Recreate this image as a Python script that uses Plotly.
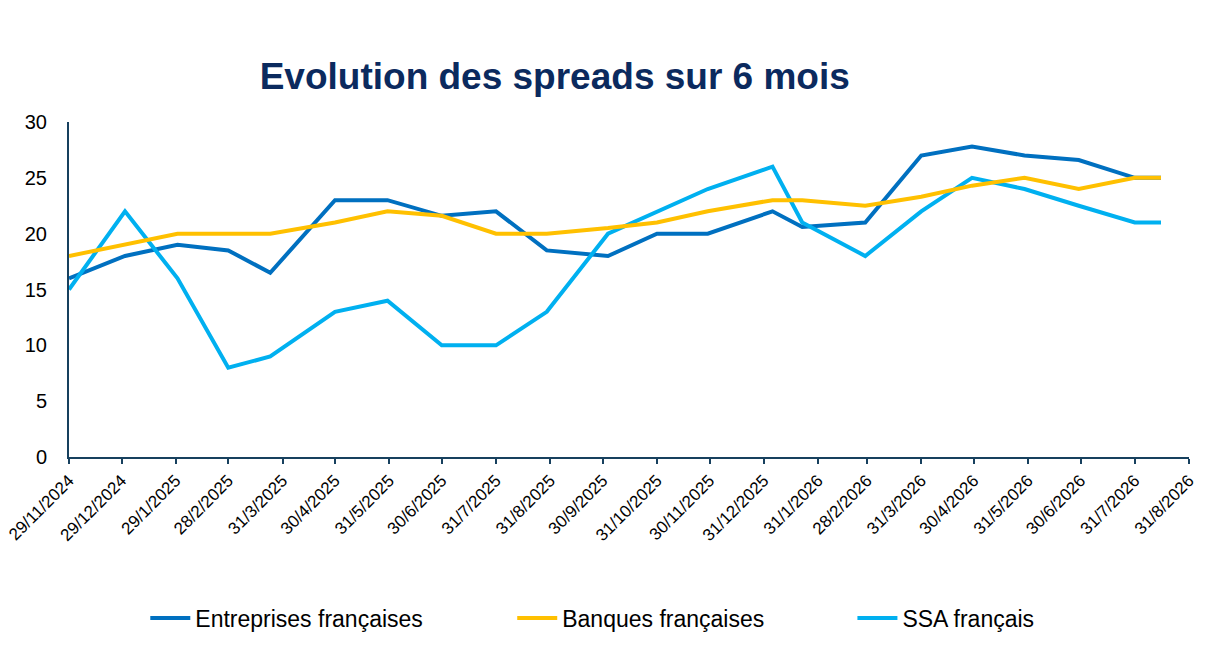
import plotly.graph_objects as go

dates = ["2024-11-29", "2024-12-31", "2025-01-30", "2025-02-28", "2025-03-24",
         "2025-04-30", "2025-05-30", "2025-06-30", "2025-07-31", "2025-08-29",
         "2025-10-03", "2025-10-31", "2025-11-29", "2026-01-05", "2026-01-22",
         "2026-02-27", "2026-03-31", "2026-04-29", "2026-05-29", "2026-06-29",
         "2026-07-31", "2026-08-15"]

entreprises = [16, 18, 19, 18.5, 16.5, 23, 23, 21.6, 22, 18.5, 18, 20, 20,
               22, 20.6, 21, 27, 27.8, 27, 26.6, 25, 25]
banques = [18, 19, 20, 20, 20, 21, 22, 21.6, 20, 20, 20.5, 21, 22, 23, 23,
           22.5, 23.3, 24.3, 25, 24, 25, 25]
ssa = [15, 22, 16, 8, 9, 13, 14, 10, 10, 13, 20, 22, 24, 26, 21, 18, 22,
       25, 24, 22.5, 21, 21]

tick_dates = ["2024-11-29", "2024-12-29", "2025-01-29", "2025-02-28", "2025-03-31",
              "2025-04-30", "2025-05-31", "2025-06-30", "2025-07-31", "2025-08-31",
              "2025-09-30", "2025-10-31", "2025-11-30", "2025-12-31", "2026-01-31",
              "2026-02-28", "2026-03-31", "2026-04-30", "2026-05-31", "2026-06-30",
              "2026-07-31", "2026-08-31"]
tick_text = ["29/11/2024", "29/12/2024", "29/1/2025", "28/2/2025", "31/3/2025",
             "30/4/2025", "31/5/2025", "30/6/2025", "31/7/2025", "31/8/2025",
             "30/9/2025", "31/10/2025", "30/11/2025", "31/12/2025", "31/1/2026",
             "28/2/2026", "31/3/2026", "30/4/2026", "31/5/2026", "30/6/2026",
             "31/7/2026", "31/8/2026"]

navy = "#0b2a5e"
axis_col = "#17405e"
font_name = "Liberation Sans, Arial"

fig = go.Figure()
fig.add_trace(go.Scatter(x=dates, y=entreprises, mode="lines", name="Entreprises françaises",
                         line=dict(color="#0070c0", width=4), legend="legend"))
fig.add_trace(go.Scatter(x=dates, y=ssa, mode="lines", name="SSA français",
                         line=dict(color="#00b0f0", width=4), legend="legend3"))
fig.add_trace(go.Scatter(x=dates, y=banques, mode="lines", name="Banques françaises",
                         line=dict(color="#ffc000", width=4), legend="legend2"))

leg = dict(orientation="h", yref="container", xref="container", y=0.06,
           yanchor="middle", xanchor="left", bgcolor="rgba(0,0,0,0)", visible=True,
           font=dict(family=font_name, size=23, color="#000000"),
           itemwidth=40)

fig.update_layout(
    width=1215, height=649, showlegend=True,
    paper_bgcolor="white", plot_bgcolor="white",
    margin=dict(l=61, r=34, t=114, b=200),
    title=dict(text="<b>Evolution des spreads sur 6 mois</b>", x=0.45, xanchor="center",
               y=0.895, yanchor="middle", yref="container",
               font=dict(family=font_name, size=37, color=navy)),
    legend=dict(leg, x=0.113),
    legend2=dict(leg, x=0.415),
    legend3=dict(leg, x=0.695),
    xaxis=dict(type="date", range=["2024-11-29", "2026-08-31"], automargin=False,
               tickmode="array", tickvals=tick_dates, ticktext=tick_text,
               tickangle=-45, ticks="outside", ticklen=5, tickwidth=2, tickcolor=axis_col,
               showline=True, linecolor=axis_col, linewidth=2, showgrid=False,
               zeroline=False, ticklabeloverflow="allow", ticklabelstandoff=0,
               tickfont=dict(family=font_name, size=17, color="#000000")),
    yaxis=dict(range=[0, 30], dtick=5, showline=True, linecolor=axis_col, linewidth=2,
               showgrid=False, zeroline=False, ticks="", ticklabelstandoff=16,
               automargin=False,
               tickfont=dict(family=font_name, size=20, color="#000000")),
)

fig.write_html("out.html")
